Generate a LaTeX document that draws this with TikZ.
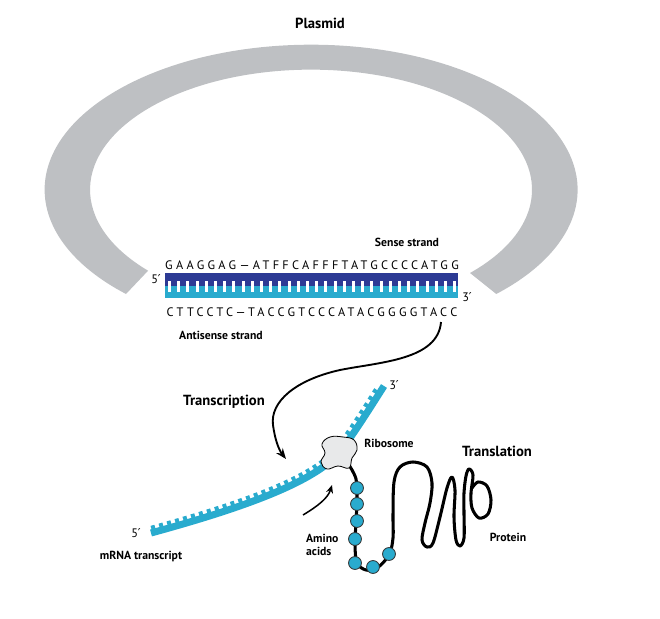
\documentclass[tikz,border=0pt]{standalone}
\usepackage{fontspec}
\setmainfont{PT Sans}
\newfontfamily\seqfont[LetterSpace=27]{PT Sans}
\newfontfamily\primefont{DejaVu Sans}
\usetikzlibrary{arrows.meta,decorations.markings}
\definecolor{plasmidgray}{RGB}{190,192,195}
\definecolor{sensedark}{RGB}{44,58,148}
\definecolor{rnablue}{RGB}{41,171,206}
\definecolor{ribogray}{RGB}{232,233,234}
\newcommand{\pr}{{\primefont ′}}
\tikzset{
  head/.style={font=\bfseries\fontsize{12.5}{14}\selectfont},
  lbl/.style={font=\bfseries\fontsize{10}{11.5}\selectfont},
  primelbl/.style={font=\fontsize{10.5}{12}\selectfont},
  seq/.style={font=\seqfont\fontsize{10.5}{12}\selectfont},
  arrowline/.style={line width=1.6pt,-{Stealth[length=9pt,width=7pt]}},
  chain/.style={line width=2.6pt,line cap=round,line join=round},
  amino/.style={circle,draw=black!80,line width=0.7pt,fill=rnablue,minimum size=11pt,inner sep=0pt},
  rnaband/.style={line width=6pt,rnablue,postaction={decorate},
    decoration={markings,mark=between positions 0.012 and 0.985 step 7.1pt with
      {\draw[rnablue,line width=3.4pt] (0pt,0pt) -- (0pt,6pt);}}}
}
\begin{document}
\begin{tikzpicture}[x=0.03cm,y=-0.03cm]
  \useasboundingbox (0,0) rectangle (660,619);

  % Draw the plasmid ring (open at the bottom)
  \fill[plasmidgray] (126,294) arc[start angle=134,end angle=406,x radius=266.5,y radius=145]
    -- (470,273) arc[start angle=404,end angle=137.5,x radius=221,y radius=120] -- cycle;
  \node[head] (plasmid) at (320,23) {Plasmid};

  % Draw the double strand
  \fill[sensedark] (165,273) rectangle (458,286);
  \fill[rnablue] (165,286) rectangle (458,298);
  \foreach \i in {0,...,31}
    \fill[white] ({168+\i*9.2},281) rectangle ({171+\i*9.2},292);
  \node[seq] (senseseq) at (312,265) {GAAGGAG—ATFFCAFFFTATGCCCCATGG};
  \node[seq] (antiseq) at (312,312) {CTTCCTC—TACCGTCCCATACGGGGTACC};
  \node[primelbl] (dnafive) at (156,279) {5\pr};
  \node[primelbl] (dnathree) at (467,297) {3\pr};
  \node[lbl] (sense) at (407,242) {Sense strand};
  \node[lbl] (antisense) at (221,335) {Antisense strand};

  % Transcription arrow
  \coordinate (txstart) at (441,322);
  \coordinate (txend) at (286,459);
  \draw[arrowline] (txstart) .. controls (438,360) and (380,362) .. (340,370)
    .. controls (295,380) and (270,402) .. (273,425)
    .. controls (275,440) and (279,450) .. (txend);
  \node[head] (transcription) at (224,402) {Transcription};

  % Draw the mRNA transcript
  \coordinate (mrnafive) at (151,533);
  \coordinate (mrnathree) at (384,386);
  \draw[rnaband] (mrnafive) .. controls (250,506) and (315,481) .. (340,452)
    .. controls (355,432) and (370,408) .. (mrnathree);
  \node[primelbl] (rnafive) at (136,533) {5\pr};
  \node[primelbl] (rnathree) at (394,385) {3\pr};
  \node[lbl] (mrna) at (141,557) {mRNA transcript};

  % Draw the growing chain and the protein
  \draw[chain] plot[smooth,tension=0.55] coordinates {(349,465) (356,479) (357,500) (356,522)
    (355,545) (357,563) (366,570) (377,568) (389,555) (393,538) (393,515) (394,482)
    (400,467) (413,462) (427,467) (432,483) (430,503) (425,523) (422,540) (427,547)
    (433,543) (440,517) (447,488) (452,477) (455,490) (454,517) (456,540) (460,546)
    (464,538) (464,513) (464,493) (466,476) (469,469) (473,475) (471,493) (472,508)
    (479,518) (488,514) (491,500) (487,486) (478,482) (472,488)};
  \foreach \pos [count=\i] in {(357,488),(357,504),(357,521),(355,539),(355,563),(373,567),(389,554)}
    \node[amino] (aa\i) at \pos {};

  % Draw the ribosome on top of the mRNA
  \filldraw[fill=ribogray,draw=black,line width=0.7pt] plot[smooth cycle,tension=0.7] coordinates
    {(322,444) (330,437) (343,437) (354,440) (357,450) (352,458) (349,468) (338,466) (327,469)
     (321,462) (325,453)};
  \node[lbl] (ribosome) at (389,443) {Ribosome};

  % Amino acid arrow
  \coordinate (aastart) at (303,515);
  \coordinate (aaend) at (332,485);
  \draw[line width=1.3pt,-{Stealth[length=7pt,width=6pt]}] (aastart) .. controls (318,506) and (328,498) .. (aaend);
  \node[lbl,anchor=west,align=left] (aminoacids) at (302,545) {Amino\\acids};

  \node[head] (translation) at (497,451) {Translation};
  \node[lbl] (protein) at (508,537) {Protein};
\end{tikzpicture}
\end{document}
